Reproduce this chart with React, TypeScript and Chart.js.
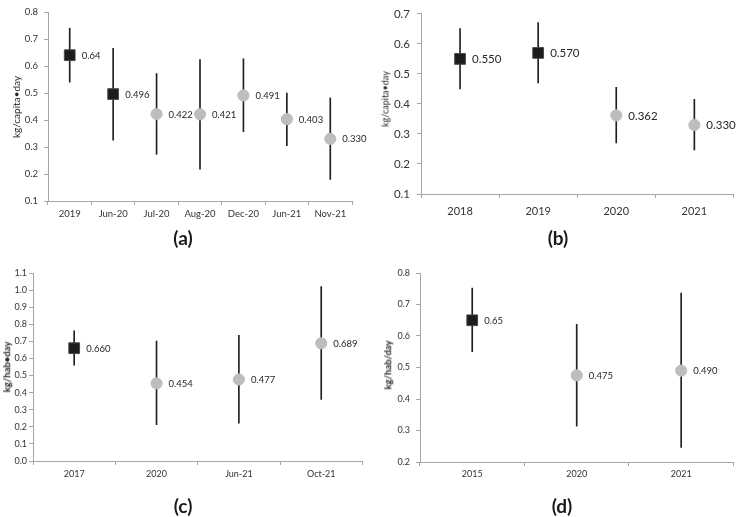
import React, { useEffect, useRef } from 'react';
import { Chart, registerables } from 'chart.js';

Chart.register(...registerables);

// ---------- Data ----------
const catsA = ['2019', 'Jun-20', 'Jul-20', 'Aug-20', 'Dec-20', 'Jun-21', 'Nov-21'];
const meanA = [0.64, 0.496, 0.422, 0.421, 0.491, 0.403, 0.33];
const lowA = [0.54, 0.325, 0.273, 0.218, 0.357, 0.305, 0.18];
const highA = [0.74, 0.665, 0.572, 0.624, 0.627, 0.5, 0.482];
const textA = ['0.64', '0.496', '0.422', '0.421', '0.491', '0.403', '0.330'];

const catsB = ['2018', '2019', '2020', '2021'];
const meanB = [0.55, 0.57, 0.362, 0.33];
const lowB = [0.45, 0.47, 0.27, 0.247];
const highB = [0.651, 0.671, 0.455, 0.415];
const textB = ['0.550', '0.570', '0.362', '0.330'];

const catsC = ['2017', '2020', 'Jun-21', 'Oct-21'];
const meanC = [0.66, 0.454, 0.477, 0.689];
const lowC = [0.561, 0.213, 0.221, 0.36];
const highC = [0.762, 0.701, 0.736, 1.02];
const textC = ['0.660', '0.454', '0.477', '0.689'];

const catsD = ['2015', '2020', '2021'];
const meanD = [0.65, 0.475, 0.49];
const lowD = [0.55, 0.314, 0.246];
const highD = [0.752, 0.637, 0.736];
const textD = ['0.65', '0.475', '0.490'];

// ---------- Panel setup ----------
const FONT = 'Lato, "Open Sans", "DejaVu Sans", sans-serif';

type Panel = {
  cats: string[]; mean: number[]; low: number[]; high: number[]; text: string[];
  baseline: number; // number of leading points shown as squares
  yMin: number; yMax: number;
  cx: number; cy: number; w: number; h: number;
  left: number; right: number; top: number; bottom: number;
  tickFont: number; xFont: number; labelFont: number;
  yPad: number; xPad: number;
  yTitle: string; yTitleBold: boolean; yTitleFont: number; yTitleX: number; yTitleY: number;
  title: string; titleX: number; titleY: number;
};

const panels: Panel[] = [
  {
    cats: catsA, mean: meanA, low: lowA, high: highA, text: textA, baseline: 2,
    yMin: 0.1, yMax: 0.8,
    cx: 0, cy: 0, w: 371, h: 258, left: 48, right: 352, top: 12, bottom: 201,
    tickFont: 9.5, xFont: 9.5, labelFont: 9.5, yPad: 6, xPad: 3,
    yTitle: 'kg/capita•day', yTitleBold: false, yTitleFont: 10, yTitleX: 16, yTitleY: 107,
    title: '(a)', titleX: 183, titleY: 237,
  },
  {
    cats: catsB, mean: meanB, low: lowB, high: highB, text: textB, baseline: 2,
    yMin: 0.1, yMax: 0.7,
    cx: 371, cy: 0, w: 371, h: 258, left: 50, right: 370, top: 7, bottom: 194,
    tickFont: 11.5, xFont: 11, labelFont: 11.5, yPad: 7, xPad: 7,
    yTitle: 'kg/capita•day', yTitleBold: false, yTitleFont: 9, yTitleX: 385, yTitleY: 99,
    title: '(b)', titleX: 558, titleY: 237,
  },
  {
    cats: catsC, mean: meanC, low: lowC, high: highC, text: textC, baseline: 1,
    yMin: 0, yMax: 1.1,
    cx: 0, cy: 258, w: 371, h: 259, left: 33, right: 366, top: 15, bottom: 203,
    tickFont: 9, xFont: 9, labelFont: 9.5, yPad: 2, xPad: 4,
    yTitle: 'kg/hab•day', yTitleBold: true, yTitleFont: 9.5, yTitleX: 7, yTitleY: 367,
    title: '(c)', titleX: 183, titleY: 505,
  },
  {
    cats: catsD, mean: meanD, low: lowD, high: highD, text: textD, baseline: 1,
    yMin: 0.2, yMax: 0.8,
    cx: 371, cy: 258, w: 371, h: 259, left: 49, right: 370, top: 15, bottom: 204,
    tickFont: 9, xFont: 9, labelFont: 9.5, yPad: 6, xPad: 3,
    yTitle: 'kg/hab/day', yTitleBold: true, yTitleFont: 9.5, yTitleX: 388, yTitleY: 365,
    title: '(d)', titleX: 562, titleY: 505,
  },
];

const valueLabels = {
  id: 'valueLabels',
  afterDatasetsDraw(chart: any, _args: any, opts: any) {
    const meta = chart.getDatasetMeta(1);
    const ctx = chart.ctx;
    ctx.save();
    ctx.font = `${opts.size}px ${FONT}`;
    ctx.fillStyle = '#262626';
    ctx.textBaseline = 'middle';
    ctx.textAlign = 'left';
    meta.data.forEach((pt: any, i: number) => {
      ctx.fillText(opts.labels[i], pt.x + opts.dx, pt.y + 0.5);
    });
    ctx.restore();
  },
};

function PanelChart({ p }: { p: Panel }) {
  const ref = useRef<HTMLCanvasElement | null>(null);
  useEffect(() => {
    if (!ref.current) return;
    const axisColor = '#a6a6a6';
    const isSq = (i: number) => i < p.baseline;
    const chart = new Chart(ref.current, {
      type: 'bar',
      data: {
        labels: p.cats,
        datasets: [
          {
            type: 'bar',
            data: p.low.map((l, i) => [l, p.high[i]]) as any,
            backgroundColor: '#202020',
            borderWidth: 0,
            barThickness: 1,
            order: 2,
          },
          {
            type: 'line',
            data: p.mean,
            showLine: false,
            pointStyle: p.mean.map((_, i) => (isSq(i) ? 'rect' : 'circle')) as any,
            pointRadius: p.mean.map((_, i) => (isSq(i) ? 7.6 : 5.6)),
            pointBackgroundColor: p.mean.map((_, i) => (isSq(i) ? '#1c1c1c' : '#bdbdbd')),
            pointBorderColor: p.mean.map((_, i) => (isSq(i) ? '#4a4a4a' : '#bdbdbd')),
            pointBorderWidth: 1,
            order: 1,
          } as any,
        ],
      },
      options: {
        animation: false,
        responsive: false,
        maintainAspectRatio: false,
        events: [],
        layout: { padding: { left: 0, top: p.top, right: p.w - p.right, bottom: 0 } },
        plugins: {
          legend: { display: false },
          tooltip: { enabled: false },
          valueLabels: { labels: p.text, size: p.labelFont, dx: 12 },
        } as any,
        scales: {
          x: {
            type: 'category',
            offset: true,
            grid: { display: true, drawOnChartArea: false, offset: true, tickLength: 4, color: axisColor, lineWidth: 1 },
            border: { color: axisColor, width: 1 },
            ticks: { font: { family: FONT, size: p.xFont }, color: '#333333', padding: p.xPad, maxRotation: 0, autoSkip: false },
            afterFit: (s: any) => { s.height = p.h - p.bottom; },
          },
          y: {
            type: 'linear',
            min: p.yMin,
            max: p.yMax,
            grid: { display: true, drawOnChartArea: false, tickLength: 4, color: axisColor, lineWidth: 1 },
            border: { color: axisColor, width: 1 },
            ticks: {
              stepSize: 0.1,
              font: { family: FONT, size: p.tickFont },
              color: '#333333',
              padding: p.yPad,
              callback: (v: any) => Number(v).toFixed(1),
            },
            afterFit: (s: any) => { s.width = p.left; },
          },
        },
      },
      plugins: [valueLabels],
    });
    return () => chart.destroy();
  }, [p]);
  return (
    <canvas
      ref={ref}
      width={p.w}
      height={p.h}
      style={{ position: 'absolute', left: p.cx, top: p.cy, width: p.w, height: p.h, display: 'block' }}
    />
  );
}

export default function App() {
  return (
    <div style={{ position: 'fixed', left: 0, top: 0, width: 742, height: 517, background: '#ffffff', overflow: 'hidden' }}>
      {panels.map((p, i) => (
        <React.Fragment key={i}>
          <PanelChart p={p} />
          <div
            style={{
              position: 'absolute', left: p.yTitleX, top: p.yTitleY,
              transform: 'translate(-50%, -50%) rotate(-90deg)',
              whiteSpace: 'nowrap', fontFamily: FONT, fontSize: p.yTitleFont,
              fontWeight: p.yTitleBold ? 700 : 400, color: '#262626', lineHeight: 1,
            }}
          >
            {p.yTitle}
          </div>
          <div
            style={{
              position: 'absolute', left: p.titleX, top: p.titleY,
              transform: 'translate(-50%, -50%)', whiteSpace: 'nowrap',
              fontFamily: FONT, fontSize: 19, fontWeight: 700, color: '#1a1a1a', lineHeight: 1,
            }}
          >
            {p.title}
          </div>
        </React.Fragment>
      ))}
    </div>
  );
}
